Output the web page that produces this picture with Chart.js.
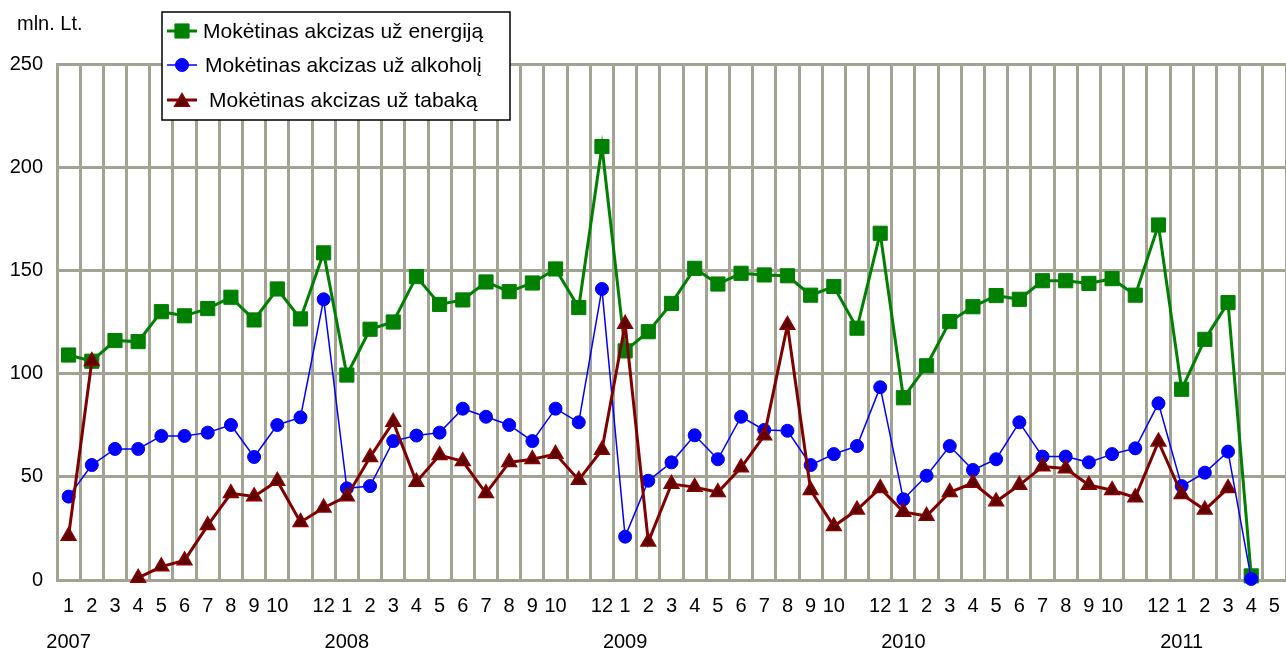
<!DOCTYPE html>
<html>
<head>
<meta charset="utf-8">
<script src="https://cdn.jsdelivr.net/npm/chart.js@4/dist/chart.umd.min.js"></script>
<style>
  html, body { margin: 0; padding: 0; background: #fff; }
  #wrap { width: 1286px; height: 651px; position: relative; }
</style>
</head>
<body>
<div id="wrap"><canvas id="chart"></canvas></div>
<script>
// tick labels (the "11" tick is left empty, as in the source)
var years = ['2007', '2008', '2009', '2010', '2011'];
var monthTicks = ['1', '2', '3', '4', '5', '6', '7', '8', '9', '10', '', '12'];
var lastYearMonths = 5;

// mln. Lt. per month
var energy = [
    109, 106, 116, 115.5, 130, 128, 131.5, 137, 126, 141, 126.5, 158.5,
    99.3, 121.5, 125, 147, 133.5, 135.7, 144.4, 139.7, 143.9, 150.7, 132, 210,
    111, 120.3, 134, 151, 143.4, 148.6, 147.8, 147.4, 138, 142.2, 122, 168,
    88.3, 103.8, 125.2, 132.4, 137.8, 136, 145, 145, 143.7, 146, 138, 172,
    92.4, 116.6, 134.4, 2, null
];
var alcohol = [
    40.4, 55.7, 63.5, 63.5, 69.8, 69.8, 71.4, 75.1, 59.6, 75.1, 78.8, 136,
    44.4, 45.5, 67.3, 70, 71.4, 83, 79.1, 75.1, 67.3, 83, 76.4, 141,
    21, 48.1, 57, 70.1, 58.5, 79.1, 72.7, 72.3, 55.7, 61, 64.9, 93.4,
    39.1, 50.5, 64.9, 53.3, 58.5, 76.4, 59.8, 59.8, 57, 61, 63.8, 85.6,
    45.5, 52, 62.2, 0.5, null
];
var tobacco = [
    21.3, 106, null, 1, 6.5, 9.5, 26.5, 42, 40.5, 48, 28, 35,
    40.5, 59.5, 76.5, 47.5, 60.5, 57.5, 42, 57, 58.5, 61, 48.5, 63,
    124, 18.5, 46.5, 45, 42.5, 54.5, 70, 123.5, 43.5, 26, 34, 44.5,
    33, 31, 42.5, 47, 38, 46, 55, 54, 46, 43.5, 40, 67,
    41.5, 34, 44.5, null, null
];
var yTicks = [0, 50, 100, 150, 200, 250];

var seriesNames = [
    'Mokėtinas akcizas už energiją',
    'Mokėtinas akcizas už alkoholį',
    'Mokėtinas akcizas už tabaką'
];

// build category labels, January gets the year on a second line
var labels = [];
years.forEach(function(y, yi) {
    var n = (yi === years.length - 1) ? lastYearMonths : 12;
    for (var m = 0; m < n; m++) {
        var t = monthTicks[m];
        labels.push(m === 0 ? [t, y] : t);
    }
});

var gridColor = '#a3a394';
var FONT = '"Liberation Sans", Arial, sans-serif';

// legend box drawn over the plot, like in the original
var boxLegend = {
    id: 'boxLegend',
    afterDraw: function(chart) {
        var ctx = chart.ctx;
        var x0 = 162, y0 = 12, w = 348, h = 108;
        ctx.save();
        ctx.fillStyle = '#fff';
        ctx.fillRect(x0, y0, w, h);
        ctx.strokeStyle = '#000';
        ctx.lineWidth = 1.5;
        ctx.strokeRect(x0, y0, w, h);

        var rows = [31, 65, 100];
        var textX = [203, 205, 209];
        var ds = chart.data.datasets;
        for (var i = 0; i < 3; i++) {
            var d = ds[i];
            ctx.strokeStyle = d.borderColor;
            ctx.lineWidth = d.borderWidth;
            ctx.beginPath();
            ctx.moveTo(167, rows[i]);
            ctx.lineTo(197, rows[i]);
            ctx.stroke();
            ctx.fillStyle = d.pointBackgroundColor;
            ctx.strokeStyle = d.pointBorderColor;
            ctx.lineWidth = d.pointBorderWidth;
            Chart.helpers.drawPoint(ctx, {
                pointStyle: d.pointStyle,
                radius: d.pointRadius,
                rotation: 0,
                borderWidth: d.pointBorderWidth
            }, 182, rows[i] + (d.pointStyle === 'triangle' ? 2 : 0));
            ctx.fillStyle = '#000';
            ctx.font = '21px ' + FONT;
            ctx.textBaseline = 'middle';
            ctx.textAlign = 'left';
            ctx.fillText(seriesNames[i], textX[i], rows[i] + 1);
        }
        // unit caption
        ctx.font = '20px ' + FONT;
        ctx.fillText('mln. Lt.', 17, 24);
        ctx.restore();
    }
};

new Chart(document.getElementById('chart'), {
    type: 'line',
    data: {
        labels: labels,
        datasets: [{
            label: seriesNames[0],
            data: energy,
            order: 3,
            borderColor: '#008000',
            borderWidth: 3,
            pointStyle: 'rect',
            pointRadius: 10,
            pointBackgroundColor: '#008000',
            pointBorderColor: '#008000',
            pointBorderWidth: 1,
            tension: 0,
            spanGaps: false,
            clip: false
        }, {
            label: seriesNames[1],
            data: alcohol,
            order: 2,
            borderColor: '#0000ff',
            borderWidth: 1.5,
            pointStyle: 'circle',
            pointRadius: 6.5,
            pointBackgroundColor: '#0000ff',
            pointBorderColor: '#0000ff',
            pointBorderWidth: 1,
            tension: 0,
            spanGaps: false,
            clip: false
        }, {
            label: seriesNames[2],
            data: tobacco,
            order: 1,
            borderColor: '#800000',
            borderWidth: 3,
            pointStyle: 'triangle',
            pointRadius: 8.5,
            pointBackgroundColor: '#5e0000',
            pointBorderColor: '#8b0000',
            pointBorderWidth: 1.5,
            tension: 0,
            spanGaps: false,
            clip: false
        }]
    },
    options: {
        responsive: true,
        maintainAspectRatio: false,
        animation: false,
        layout: { autoPadding: false, padding: { top: 64, right: 0, left: 0, bottom: 0 } },
        plugins: {
            legend: { display: false },
            tooltip: { enabled: false }
        },
        scales: {
            x: {
                offset: true,
                grid: { offset: true, color: gridColor, lineWidth: 3, drawTicks: false },
                border: { display: true, color: gridColor, width: 3 },
                ticks: {
                    autoSkip: false,
                    maxRotation: 0,
                    padding: 8,
                    color: '#000',
                    font: { family: FONT, size: 20, lineHeight: 1.8 }
                },
                afterFit: function(scale) {
                    scale.height = 71;
                    scale.paddingLeft = 0;
                    scale.paddingRight = 0;
                }
            },
            y: {
                min: 0,
                max: 250,
                afterBuildTicks: function(scale) {
                    scale.ticks = yTicks.map(function(v) { return { value: v }; });
                },
                grid: { color: gridColor, lineWidth: 3, drawTicks: false },
                border: { display: true, color: gridColor, width: 3 },
                ticks: {
                    padding: 14,
                    color: '#000',
                    font: { family: FONT, size: 20 }
                },
                afterFit: function(scale) { scale.width = 57; }
            }
        }
    },
    plugins: [boxLegend]
});
</script>
</body>
</html>
